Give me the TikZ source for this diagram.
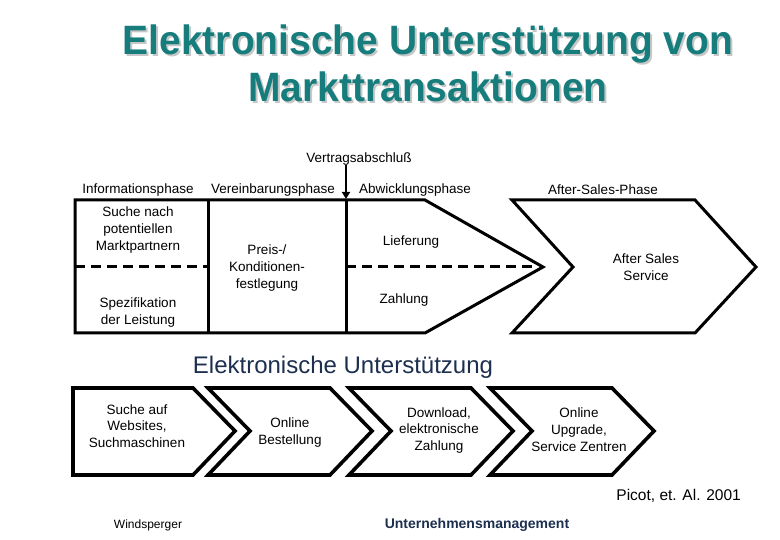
\documentclass[tikz,border=0pt]{standalone}
\usepackage{fontspec}
\setmainfont{Liberation Sans}
\newfontfamily\titlefont[FakeStretch=0.95]{Liberation Sans}
\usetikzlibrary{arrows.meta,positioning,calc}
\definecolor{titleteal}{HTML}{167C7C}
\definecolor{navy}{HTML}{1C2F4F}

\begin{document}
\begin{tikzpicture}[x=1pt,y=-1pt,line join=miter,
  every node/.style={font=\fontsize{13.5}{16.8}\selectfont,align=center,inner sep=0pt},
  frame/.style={line width=3pt},
  dashline/.style={line width=3pt,dash pattern=on 10pt off 6pt},
  chev/.style={line width=3.6pt},
  big/.style={font=\titlefont\bfseries\fontsize{41}{46}\selectfont,anchor=base}]
  \useasboundingbox (0,0) rectangle (780,540);
  % title with shadow
  \foreach \c/\d in {black!22/2,titleteal/0}{
    \node[big,text=\c] (titleA\d) at (428+\d,55+\d) {Elektronische Unterstützung von};
    \node[big,text=\c] (titleB\d) at (428+\d,102+\d) {Markttransaktionen};
  }

  % phases
  \node (vab) at (359,159) {Vertragsabschluß};
  \coordinate (vabtip) at (346,199);
  \draw[line width=2.5pt,-{Triangle[length=7pt,width=8pt]}] (vab.south -| vabtip) -- (vabtip);
  \node (info) at (138,190) {Informationsphase};
  \node (verein) at (273,190) {Vereinbarungsphase};
  \node (abw) at (415,190) {Abwicklungsphase};
  \node (after) at (603,190) {After-Sales-Phase};

  \draw[frame] (75,200) -- (425,200) -- (543,267) -- (425,333) -- (75,333) -- cycle;
  \draw[frame] (208,200) -- (208,333) (346,200) -- (346,333);
  \draw[dashline] (75,267) -- (208,267) (346,267) -- (538,267);
  \draw[frame] (512,200) -- (695,200) -- (756,267) -- (695,333) -- (512,333) -- (573,267) -- cycle;

  \node (suche) at (138,230) {Suche nach\\potentiellen\\Marktpartnern};
  \node (spez) at (138,312.5) {Spezifikation\\der Leistung};
  \node (preis) at (267,268) {Preis-/\\Konditionen-\\festlegung};
  \node (liefer) at (411,242) {Lieferung};
  \node (zahl) at (404,300) {Zahlung};
  \node (ass) at (646,267.5) {After Sales\\Service};

  % elektronische Unterstuetzung
  \node[font=\fontsize{24}{28}\selectfont,text=navy] (eu) at (343,367) {Elektronische Unterstützung};
  \draw[chev] (73,388) -- (193,388) -- (235,431) -- (193,475) -- (73,475) -- cycle;
  \foreach \x in {208,349,490}
    \draw[chev] (\x,388) -- ++(122,0) -- ++(42,43) -- ++(-42,44) -- ++(-122,0) -- ++(42,-44) -- cycle;
  \node (web) at (137,426) {Suche auf\\Websites,\\Suchmaschinen};
  \node (best) at (290,432.5) {Online\\Bestellung};
  \node (down) at (439,430.5) {Download,\\elektronische\\Zahlung};
  \node (upg) at (579,429.5) {Online\\Upgrade,\\Service Zentren};

  % footer
  \node[font=\fontsize{15.5}{18}\selectfont,anchor=east] (picot) at (741,496) {Picot, et. Al. 2001};
  \node[font=\fontsize{12}{14}\selectfont] (wind) at (148,525) {Windsperger};
  \node[font=\fontsize{14}{16}\selectfont\bfseries,text=navy] (um) at (477,525) {Unternehmensmanagement};
\end{tikzpicture}
\end{document}
